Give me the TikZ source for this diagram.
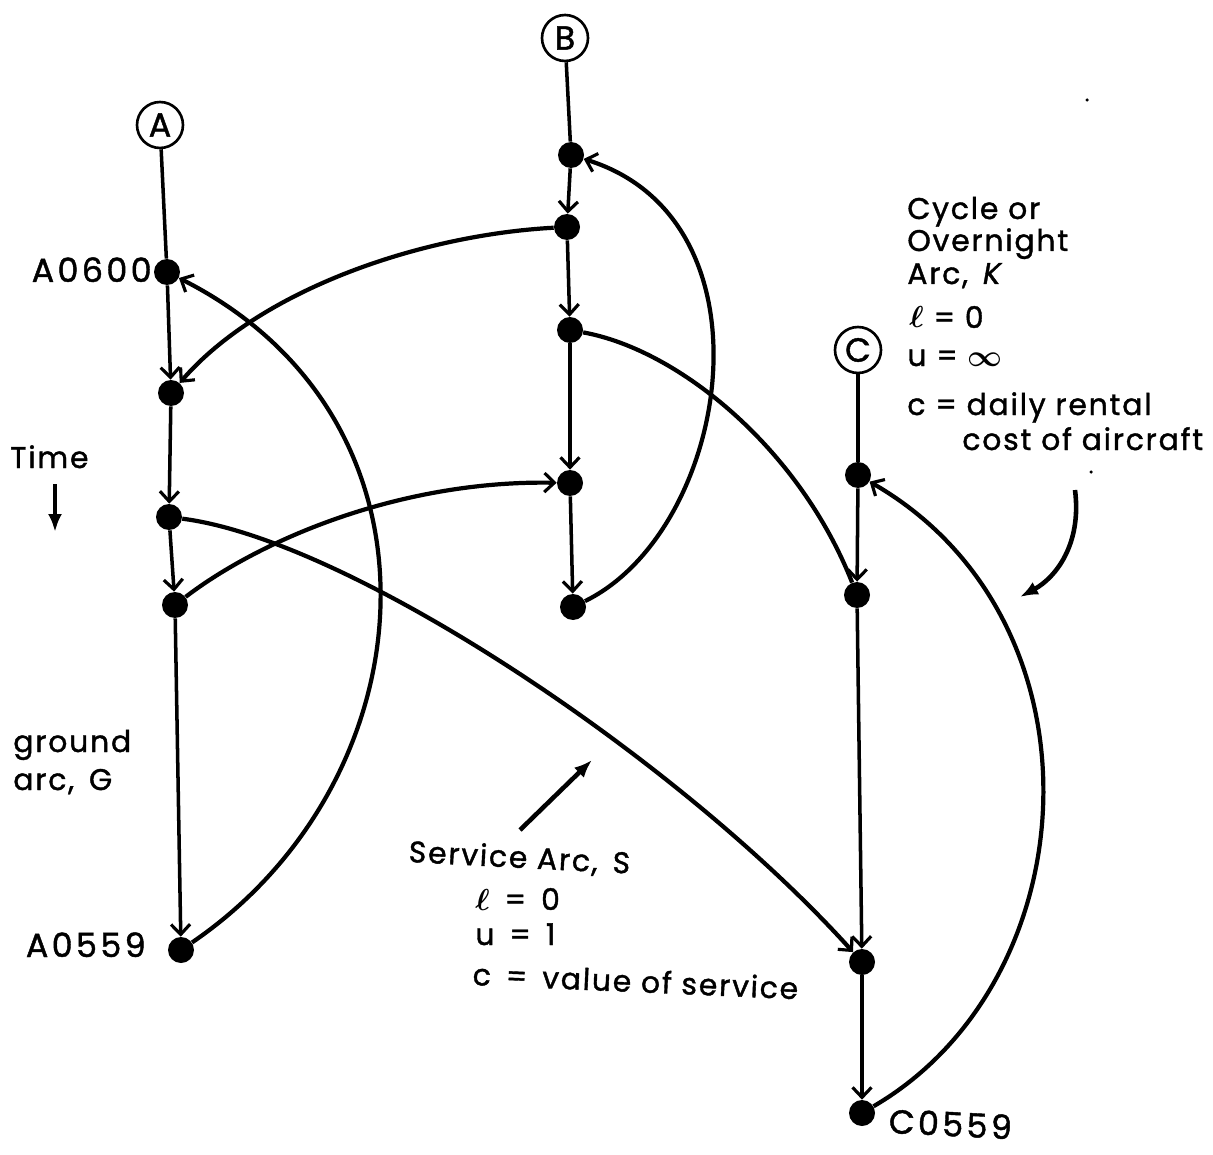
\documentclass[tikz,border=0pt]{standalone}
\usepackage{bm}
\usepackage{fontspec}
\setmainfont{Poppins}[LetterSpace=6, FakeBold=1.3]
\usetikzlibrary{arrows.meta}

\begin{document}
\begin{tikzpicture}[x=0.02cm, y=-0.02cm,
  dot/.style={circle, fill=black, inner sep=0pt, minimum size=0.52cm},
  station/.style={circle, draw, line width=1.5pt, inner sep=0pt,
    minimum size=0.92cm, font=\fontsize{19}{22}\selectfont},
  barb/.style={-{Straight Barb[length=0.2cm, width=0.38cm, line width=1.8pt]}},
  ground/.style={line width=2.0pt, barb},
  plainline/.style={line width=2.0pt},
  flow/.style={line width=2.4pt, barb},
  flowplain/.style={line width=2.4pt},
  pointer/.style={line width=2.6pt, -{Latex[length=0.36cm, width=0.28cm]}},
  lbl/.style={font=\fontsize{17}{20}\selectfont, inner sep=0pt},
  wide/.style={font=\fontsize{19}{21}\selectfont\addfontfeatures{LetterSpace=10}},
  speck/.style={circle, fill=black, inner sep=0pt, minimum size=0.07cm},
]
\useasboundingbox (0,0) rectangle (1213,1155);

% stations
\node[station] (A) at (160,125) {A};
\node[station] (B) at (565,38) {B};
\node[station] (C) at (858,350) {C};

% time-line nodes of station A
\node[dot] (a1) at (167,272) {};
\node[dot] (a2) at (171,393) {};
\node[dot] (a3) at (169,517) {};
\node[dot] (a4) at (175,605) {};
\node[dot] (a5) at (181,950) {};

% time-line nodes of station B
\node[dot] (b1) at (571,155) {};
\node[dot] (b2) at (567,227) {};
\node[dot] (b3) at (570,330) {};
\node[dot] (b4) at (570,483) {};
\node[dot] (b5) at (573,607) {};

% time-line nodes of station C
\node[dot] (c1) at (858,475) {};
\node[dot] (c2) at (857,595) {};
\node[dot] (c3) at (862,962) {};
\node[dot] (c4) at (862,1113) {};

% ground arcs
\draw[plainline] (A) -- (a1);
\draw[ground] (a1) -- (a2);
\draw[ground] (a2) -- (a3);
\draw[ground] (a3) -- (a4);
\draw[ground] (a4) -- (a5);
\draw[plainline] (B) -- (b1);
\draw[ground] (b1) -- (b2);
\draw[ground] (b2) -- (b3);
\draw[ground] (b3) -- (b4);
\draw[ground] (b4) -- (b5);
\draw[plainline] (C) -- (c1);
\draw[ground] (c1) -- (c2);
\draw[ground] (c2) -- (c3);
\draw[ground] (c3) -- (c4);

% overnight (cycle) arcs
\draw[flow] (a5) .. controls (430,780) and (460,420) .. (a1);
\draw[flow] (b5) .. controls (730,530) and (780,220) .. (b1);
\draw[flow] (c4) .. controls (1090,980) and (1110,620) .. (c1);

% service arcs
\draw[flow] (b2) .. controls (420,235) and (260,290) .. (a2);
\draw[flowplain] (b3) .. controls (680,350) and (800,450) .. (c2);
\draw[flow] (a3) .. controls (350,540) and (680,760) .. (c3);
\draw[flow] (a4) .. controls (260,540) and (400,480) .. (b4);

% labels of the end-of-day nodes
\node[lbl, wide, anchor=base east] (la0600) at (152,282) {A0600};
\node[lbl, wide, anchor=base east] (la0559) at (146,957) {A0559};
\node[lbl, wide, anchor=base west, rotate=-3] (lc0559) at (888,1133) {C0559};

% time direction
\node[lbl, anchor=base west] (ltime) at (10,468) {Time};
\coordinate (t1) at (55,484);
\coordinate (t2) at (55,532);
\draw[pointer] (t1) -- (t2);

% ground arc legend
\node[lbl, anchor=base west] (lground) at (13,752) {ground};
\node[lbl, anchor=base west] (larcg) at (13,790) {arc,\enspace G};

% cycle arc legend
\node[lbl, anchor=base west] (k1) at (907,219) {Cycle or};
\node[lbl, anchor=base west] (k2) at (907,251) {Overnight};
\node[lbl, anchor=base west] (k3) at (907,284) {Arc,\enspace\textit{K}};
\node[lbl, anchor=base west] (k4) at (909,328) {$\bm{\ell}$ = 0};
\node[lbl, anchor=base west] (k5) at (907,366) {u = $\bm{\infty}$};
\node[lbl, anchor=base west] (k6) at (907,415) {c = daily rental};
\node[lbl, anchor=base west] (k7) at (962,450) {cost of aircraft};
\node[speck] (sp1) at (1091,472) {};
\node[speck] (sp2) at (1087,100) {};
\coordinate (k0) at (1075,490);
\coordinate (k9) at (1020,597);
\draw[pointer] (k0) .. controls (1082,545) and (1055,578) .. (k9);

% service arc legend
\node[lbl, anchor=base west, rotate=-3] (s1) at (408,862) {Service Arc,\enspace S};
\node[lbl, anchor=base west] (s2) at (475,910) {$\bm{\ell}$\enspace=\enspace 0};
\node[lbl, anchor=base west] (s3) at (475,945) {u\enspace=\enspace 1};
\node[lbl, anchor=base west, rotate=-2.5] (s4) at (472,985) {c\enspace=\enspace value of service};
\coordinate (s0) at (520,830);
\coordinate (s9) at (592,760);
\draw[pointer] (s0) -- (s9);
\end{tikzpicture}
\end{document}
